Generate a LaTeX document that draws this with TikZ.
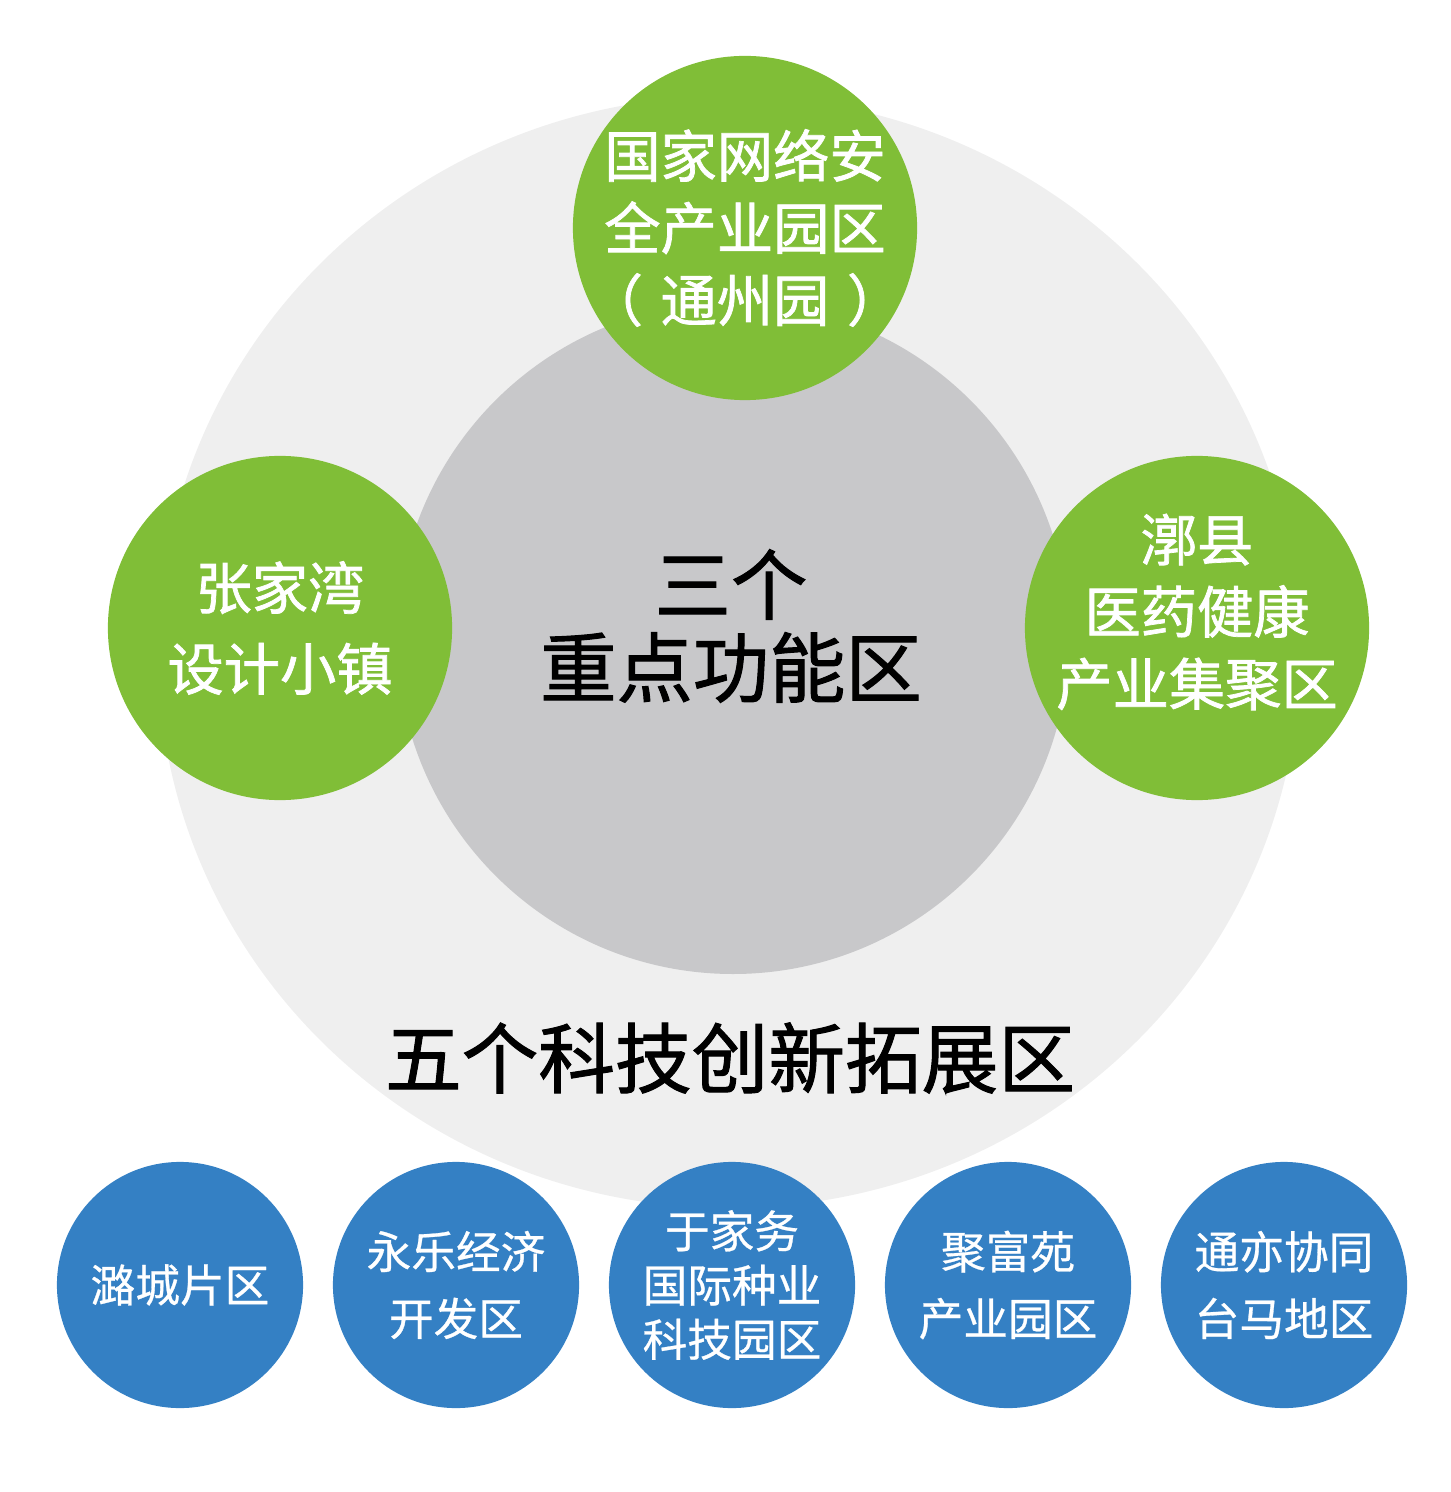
\documentclass[tikz,border=0pt]{standalone}
\usepackage{fontspec}
\newfontfamily\cjk[FakeBold=0.6]{Noto Sans CJK SC}
\newfontfamily\cjkheavy[FakeBold=1.3]{Noto Sans CJK SC}
\definecolor{zonegreen}{RGB}{128,190,55}
\definecolor{zoneblue}{RGB}{52,128,196}
\definecolor{ringgray}{RGB}{239,239,239}
\definecolor{coregray}{RGB}{200,200,202}
\begin{document}
\begin{tikzpicture}[x=0.01cm,y=-0.01cm,
  greenzone/.style={circle,fill=zonegreen,minimum size=3.44cm,inner sep=0},
  bluezone/.style={circle,fill=zoneblue,minimum size=2.46cm,inner sep=0},
  greentext/.style={text=white,align=center,font=\cjkheavy\fontsize{16}{20.5}\selectfont},
  bluetext/.style={text=white,align=center,font=\cjk\fontsize{12.7}{19}\selectfont}]

\useasboundingbox (0,0) rectangle (1450,1492);

\fill [ringgray] (729,652) ellipse [x radius=571,y radius=556];
\fill [coregray] (733,638) circle (336);

\node (core) [greentext,text=black,font=\cjkheavy\fontsize{21.7}{23.6}\selectfont] at (731,626) {三个\\重点功能区};
\node (ring) [text=black,font=\cjkheavy\fontsize{21.8}{24}\selectfont] at (730,1058) {五个科技创新拓展区};

% three green circles
\node (cyber) [greenzone] at (745,228) {};
\node (design) [greenzone] at (280,628) {};
\node (pharma) [greenzone] at (1197,628) {};

\node (cybertext) [greentext] at (cyber.center) {国家网络安\\全产业园区\\（\hspace{5pt}通州园\hspace{5pt}）};
\node (designtext) [greentext,font=\cjkheavy\fontsize{16}{23}\selectfont] at (280,628) {张家湾\\设计小镇};
\node (pharmatext) [greentext] at (1197,612) {漷县\\医药健康\\产业集聚区};

% five blue circles
\foreach \i/\xpos in {1/180,2/456,3/732,4/1008,5/1284}
  \node (blue\i) [bluezone] at (\xpos,1285) {};

\node (lucheng) [bluetext] at (blue1.center) {潞城片区};
\node (yongle) [bluetext] at (blue2.center) {永乐经济\\开发区};
\node (yujiawu) [bluetext,font=\cjk\fontsize{12.7}{15.4}\selectfont] at (blue3.center) {于家务\\国际种业\\科技园区};
\node (jufuyuan) [bluetext] at (blue4.center) {聚富苑\\产业园区};
\node (taihu) [bluetext] at (blue5.center) {通亦协同\\台马地区};

\end{tikzpicture}
\end{document}
